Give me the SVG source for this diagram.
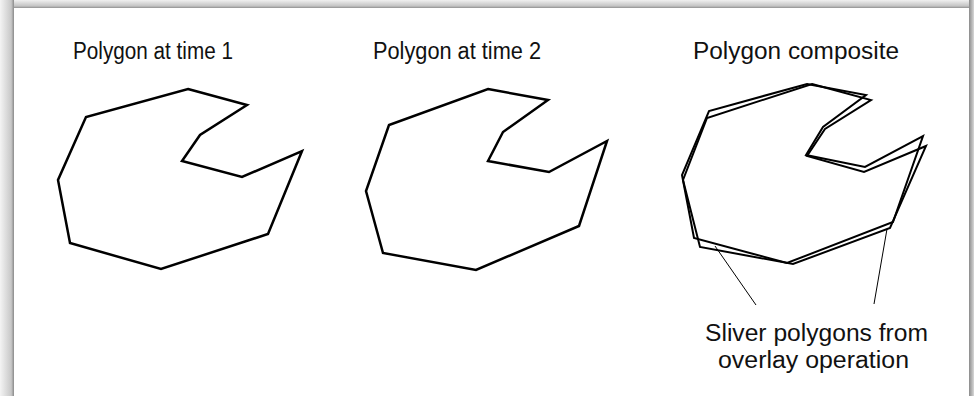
<svg xmlns="http://www.w3.org/2000/svg" width="974" height="396" viewBox="0 0 974 396">
<defs>
<linearGradient id="gl" x1="0" y1="0" x2="1" y2="0"><stop offset="0" stop-color="#f4f4f4"/><stop offset="0.8" stop-color="#c8c8c8"/><stop offset="1" stop-color="#8a8a8a"/></linearGradient>
<linearGradient id="gt" x1="0" y1="0" x2="0" y2="1"><stop offset="0" stop-color="#f0f0f0"/><stop offset="0.75" stop-color="#c4c4c4"/><stop offset="1" stop-color="#909090"/></linearGradient>
<linearGradient id="gr" x1="0" y1="0" x2="1" y2="0"><stop offset="0" stop-color="#8a8a8a"/><stop offset="1" stop-color="#d8d8d8"/></linearGradient>
</defs>
<style>
.t{font-family:"Liberation Sans",Arial,sans-serif;font-size:23px;fill:#111}
.p{fill:none;stroke:#000;stroke-width:2.5;stroke-linejoin:miter}
.c{fill:none;stroke:#000;stroke-width:2;stroke-linejoin:miter}
.l{fill:none;stroke:#000;stroke-width:1}
</style>
<g id="frame">
<rect x="0" y="0" width="974" height="396" fill="#dcdcdc"/>
<rect x="0" y="0" width="974" height="8" fill="url(#gt)"/>
<rect x="0" y="0" width="14" height="396" fill="url(#gl)"/>
<rect x="969" y="0" width="5" height="396" fill="url(#gr)"/>
<rect x="14" y="8" width="955" height="388" fill="#fff"/>
</g>
<g id="poly1">
<text class="t" x="73" y="59" textLength="160" lengthAdjust="spacingAndGlyphs">Polygon at time 1</text>
<polygon class="p" points="188,89 247,105 200,135 182,161 242,177 302,151 268,234 161,269 70,243 58,180 86,117"/>
</g>
<g id="poly2">
<text class="t" x="373" y="59" textLength="168" lengthAdjust="spacingAndGlyphs">Polygon at time 2</text>
<polygon class="p" points="488,89 548,100 503,132 488,161 549,172 607,141 579,226 476,270 383,253 366,191 389,125"/>
</g>
<g id="composite">
<text class="t" x="693" y="59" textLength="206" lengthAdjust="spacingAndGlyphs">Polygon composite</text>
<polygon class="c" points="807,84 866,95 823,127 806,155 865,167 923,136 893,222 787,263 694,238 682,175 709,111"/>
<polygon class="c" points="812,84 871,100 825,129 807,156 864,172 926,146 890,228 793,264 700,247 683,180 707,118"/>
</g>
<g id="connectors">
<line class="l" x1="715" y1="246" x2="756" y2="305"/>
<line class="l" x1="887" y1="229" x2="874" y2="304"/>
</g>
<g id="label">
<text class="t" x="705" y="341" textLength="223" lengthAdjust="spacingAndGlyphs">Sliver polygons from</text>
<text class="t" x="718" y="368" textLength="191" lengthAdjust="spacingAndGlyphs">overlay operation</text>
</g>
</svg>
